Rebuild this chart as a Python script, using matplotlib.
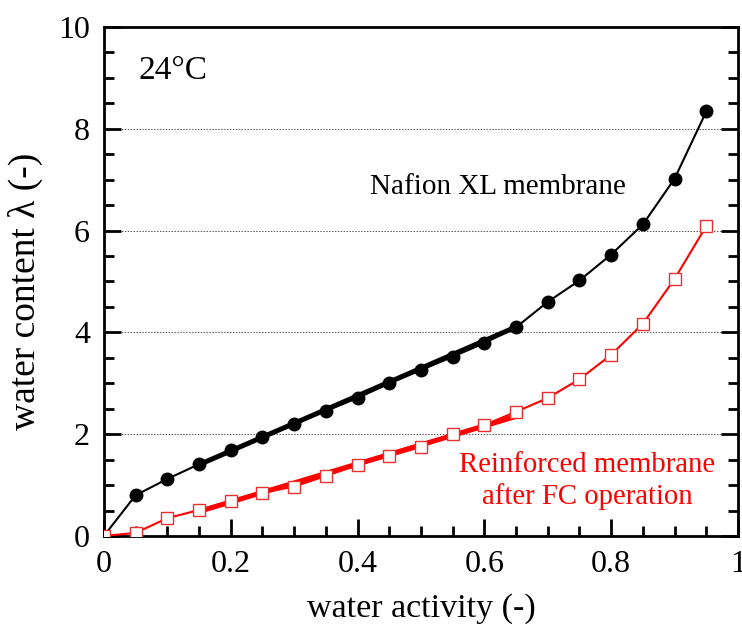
import numpy as np
import matplotlib
matplotlib.use('Agg')
from matplotlib import pyplot as plt
from matplotlib.ticker import MultipleLocator

# water activity points
aw = [0.0, 0.05, 0.1, 0.15, 0.2, 0.25, 0.3, 0.35, 0.4, 0.45, 0.5,
      0.55, 0.6, 0.65, 0.7, 0.75, 0.8, 0.85, 0.9, 0.95]
# Nafion XL
lam_xl = [0.0, 0.80, 1.12, 1.41, 1.69, 1.94, 2.20, 2.46, 2.71, 3.00, 3.26,
          3.52, 3.79, 4.10, 4.60, 5.02, 5.53, 6.12, 7.02, 8.34]
# reinforced membrane after FC operation
lam_rf = [0.0, 0.06, 0.35, 0.51, 0.69, 0.85, 0.97, 1.18, 1.39, 1.57, 1.75,
          2.00, 2.18, 2.44, 2.71, 3.08, 3.56, 4.17, 5.05, 6.09]

# linear fit segments
fit_xl_x = [0.15, 0.645]
fit_xl_y = [1.40, 4.08]
fit_rf_x = [0.155, 0.65]
fit_rf_y = [0.50, 2.35]

plt.rcParams['font.family'] = ['Liberation Serif', 'DejaVu Serif']

fig = plt.figure(figsize=(7.42, 6.37), dpi=100)
ax = fig.add_axes([0.140, 0.1586, 0.8546, 0.799])

for g in [2, 4, 6, 8]:
    ax.axhline(g, color='#555555', lw=0.7, ls=(0, (1.5, 1.5)), zorder=0)

ax.plot(fit_xl_x, fit_xl_y, color='black', lw=3.6, solid_capstyle='butt', zorder=2)
ax.plot(fit_rf_x, fit_rf_y, color='#ff0000', lw=3.6, solid_capstyle='butt', zorder=2)

ax.plot(aw, lam_xl, color='black', lw=1.5, marker='o', ms=9, zorder=3)
ax.plot(aw, lam_rf, color='#ff0000', lw=1.5, marker='s', ms=8.5,
        mfc='white', mec='#e83030', mew=1.0, zorder=3)

ax.set_xlim(0, 1)
ax.set_ylim(0, 10)
ax.xaxis.set_minor_locator(MultipleLocator(0.05))
ax.yaxis.set_minor_locator(MultipleLocator(0.5))
ax.set_xticks([0, 0.2, 0.4, 0.6, 0.8, 1.0])
ax.set_xticklabels(['0', '0.2', '0.4', '0.6', '0.8', '1'])
ax.set_yticks([0, 2, 4, 6, 8, 10])
ax.set_yticklabels(['0', '2', '4', '6', '8', '10'])

ax.tick_params(which='both', direction='in', top=False, right=True,
               width=2, labelsize=23, pad=10)
ax.tick_params(which='major', length=12)
ax.tick_params(which='minor', length=7)
for s in ax.spines.values():
    s.set_linewidth(2)

ax.set_xlabel('water activity (-)', fontsize=24.5, labelpad=10)
ax.set_ylabel('water content λ (-)', fontsize=27, labelpad=11)
ax.yaxis.label.set_y(0.481)

ax.text(0.055, 9.15, '24°C', fontsize=24, va='center', ha='left')
ax.text(0.42, 6.86, 'Nafion XL membrane', fontsize=21, va='center', ha='left')
ax.text(0.762, 1.08, 'Reinforced membrane\nafter FC operation', fontsize=20.7,
        va='center', ha='center', color='#ff0000', linespacing=1.2)

plt.savefig('out.png', dpi=100)
